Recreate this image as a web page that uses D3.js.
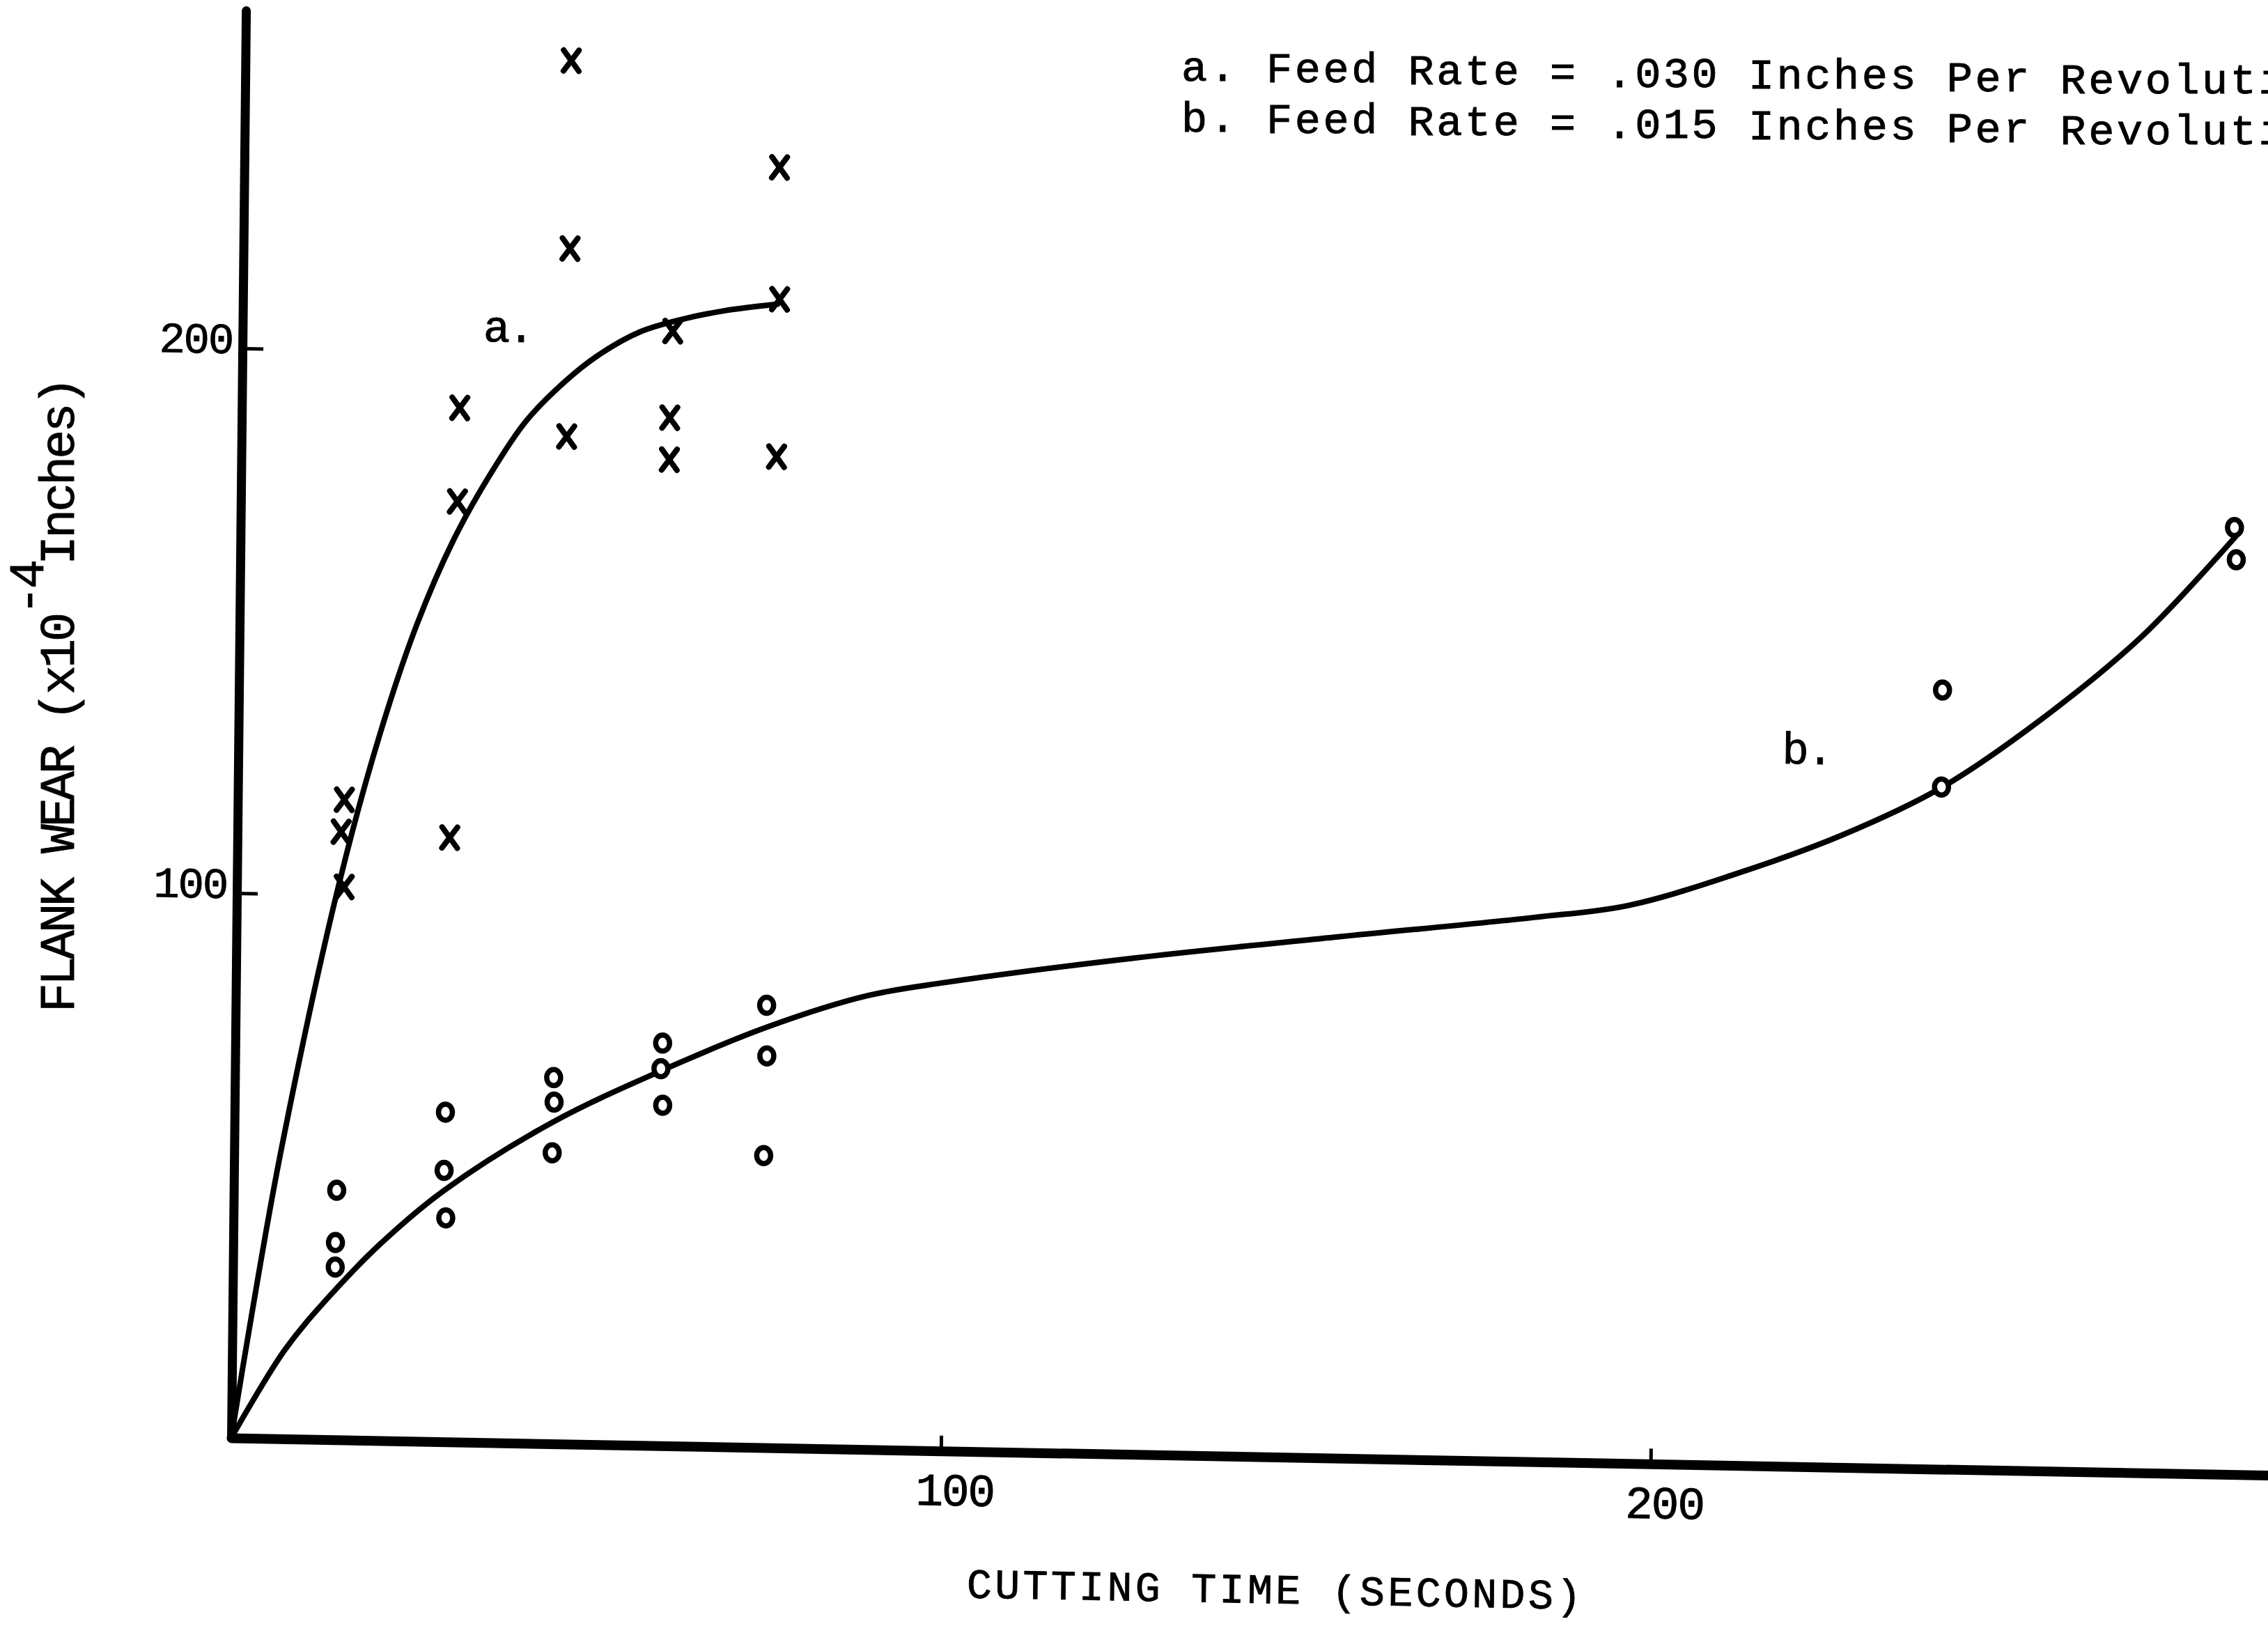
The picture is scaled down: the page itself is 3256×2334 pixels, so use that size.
<!DOCTYPE html>
<html>
<head>
<meta charset="utf-8">
<script src="https://cdn.jsdelivr.net/npm/d3@7"></script>
<style>
html, body { margin: 0; padding: 0; background: #fff; }
svg { display: block; }
text { font-family: "Liberation Mono", "DejaVu Sans Mono", monospace; fill: #000; stroke: #000; stroke-width: 0.9px; }
</style>
</head>
<body>
<svg id="chart" width="3256" height="2334"></svg>
<script>
// ---------------- data ----------------
const xTickValues = [100, 200];
const xTickLabels = ["100", "200"];
const yTickValues = [100, 200];
const yTickLabels = ["100", "200"];

const legendLines = [
  "a. Feed Rate = .030 Inches Per Revolution",
  "b. Feed Rate = .015 Inches Per Revolution"
];
const seriesLabels = ["a.", "b."];
const xTitle = "CUTTING TIME (SECONDS)";
const yTitleMain = "FLANK WEAR (x10";
const yTitleSup = "-4";
const yTitleEnd = "Inches)";

// series a : feed .030 ipr (x markers)
const timeA = [15.0, 14.6, 15.1, 30.7, 30.5, 29.9, 45.9, 46.0, 45.8, 60.6, 60.3, 60.3, 75.4, 75.6, 75.4];
const wearA = [117.5, 111.6, 101.5, 189.8, 172.6, 110.9, 253.9, 219.4, 184.9, 204.6, 188.7, 181.0, 235.0, 210.8, 181.9];

// series b : feed .015 ipr (o markers)
const timeB = [14.5, 14.4, 14.4, 29.7, 29.6, 29.9, 44.9, 45.0, 44.8, 60.2, 60.0, 60.3, 74.8, 74.9, 74.6, 240.0, 240.0, 280.9, 281.2];
const wearB = [45.8, 36.2, 31.7, 60.5, 49.8, 41.1, 67.2, 62.7, 53.4, 73.9, 69.2, 62.5, 81.2, 71.9, 53.6, 143.0, 125.2, 173.8, 167.9];

// hand-drawn fitted curves
const fitATime = [0, 2.3, 6.5, 14.3, 20.0, 25.0, 30.0, 35.0, 40.0, 45.5, 50.0, 55.9, 62.2, 67.8, 75.3];
const fitAWear = [0, 19.4, 52.2, 101.6, 130.0, 150.0, 165.5, 177.5, 187.5, 195.0, 199.8, 204.3, 206.9, 208.5, 209.9];
const fitBTime = [0, 7.4, 13.6, 20.8, 29.7, 44.8, 60.0, 75.1, 89.0, 100.0, 126.5, 154.7, 182.8, 196.0, 211.0, 226.0, 240.0, 254.0, 268.0, 281.1];
const fitBWear = [0, 16.3, 26.3, 36.2, 46.2, 59.0, 68.8, 77.3, 83.3, 86.0, 91.1, 95.6, 99.9, 102.4, 108.5, 116.0, 125.1, 138.0, 153.5, 172.2];

// ---------------- layout ----------------
const svg = d3.select("#chart");
const W = 3256, H = 2334;
svg.append("rect").attr("width", W).attr("height", H).attr("fill", "#fff");

const originX = 332, originY = 2064;
const xTilt = 1.05 * Math.PI / 180;   // scanned page: x axis slopes down to the right
const yTilt = 0.59 * Math.PI / 180;   // y axis leans slightly right
const ma = Math.cos(xTilt), mb = Math.sin(xTilt), mc = -Math.sin(yTilt), md = Math.cos(yTilt);

const x = d3.scaleLinear().domain([0, 300]).range([0, 3057]);
const y = d3.scaleLinear().domain([0, 262]).range([0, -2049]);

const g = svg.append("g")
  .attr("transform", `matrix(${ma},${mb},${mc},${md},${originX},${originY})`);

// curves
const line = d3.line().x(d => x(d[0])).y(d => y(d[1])).curve(d3.curveCatmullRom.alpha(0.5));
const fitA = fitATime.map((t, i) => [t, fitAWear[i]]);
const fitB = fitBTime.map((t, i) => [t, fitBWear[i]]);
[fitA, fitB].forEach(f => {
  g.append("path").attr("d", line(f)).attr("fill", "none").attr("stroke", "#000")
    .attr("stroke-width", 8).attr("stroke-linecap", "round").attr("stroke-linejoin", "round");
});

// axes
const xAxis = d3.axisBottom(x).tickValues(xTickValues)
  .tickFormat((d, i) => xTickLabels[i]).tickSizeInner(-22).tickSizeOuter(0);
const gx = g.append("g").call(xAxis);
gx.select(".domain").attr("stroke", "#000").attr("stroke-width", 14).attr("stroke-linecap", "round");
gx.selectAll(".tick line").attr("stroke", "#000").attr("stroke-width", 5);
gx.selectAll(".tick text").attr("x", 20).attr("y", 78).attr("dy", null)
  .attr("fill", "#000").style("font-size", "66px").style("letter-spacing", "-2px");

const yAxis = d3.axisLeft(y).tickValues(yTickValues)
  .tickFormat((d, i) => yTickLabels[i]).tickSizeInner(-30).tickSizeOuter(0);
const gy = g.append("g").call(yAxis);
gy.select(".domain").attr("stroke", "#000").attr("stroke-width", 13).attr("stroke-linecap", "round");
gy.selectAll(".tick line").attr("stroke", "#000").attr("stroke-width", 5);
gy.selectAll(".tick text").attr("x", -14).attr("y", 7).attr("dy", null)
  .attr("fill", "#000").style("font-size", "62px").style("letter-spacing", "-2px");

// markers a (x)
const ptsA = timeA.map((t, i) => [t, wearA[i]]);
g.append("g").selectAll("path").data(ptsA).join("path")
  .attr("d", "M-11,-15L11,15M11,-15L-11,15")
  .attr("transform", d => `translate(${x(d[0])},${y(d[1])})`)
  .attr("fill", "none").attr("stroke", "#000").attr("stroke-width", 8).attr("stroke-linecap", "round");

// markers b (o)
const ptsB = timeB.map((t, i) => [t, wearB[i]]);
g.append("g").selectAll("ellipse").data(ptsB).join("ellipse")
  .attr("cx", d => x(d[0])).attr("cy", d => y(d[1]))
  .attr("rx", 10).attr("ry", 11.5)
  .attr("fill", "#fff").attr("stroke", "#000").attr("stroke-width", 7.5);

// curve labels
g.append("text").attr("x", x(33.9)).attr("y", y(202.1)).style("font-size", "64px").style("letter-spacing", "-3px").text(seriesLabels[0]);
g.append("text").attr("x", x(217.5)).attr("y", y(129.0)).style("font-size", "64px").style("letter-spacing", "-3px").text(seriesLabels[1]);

// x title (follows the tilted axis)
g.append("text").attr("x", 1058).attr("y", 210)
  .style("font-size", "60px").style("letter-spacing", "4.3px")
  .text(xTitle);

// y title
const yt = svg.append("text")
  .attr("transform", "translate(106,1453) rotate(-90)")
  .style("font-size", "70px").style("letter-spacing", "-4px");
yt.append("tspan").text(yTitleMain);
yt.append("tspan").attr("dy", -44).text(yTitleSup);
yt.append("tspan").attr("dy", 44).attr("dx", -4).text(yTitleEnd);

// legend: typed lines, slightly skewed on the scan; each word placed on its column
const pitch = 40.7, legTilt = 0.8 * Math.PI / 180;
const legX = 1696, legY = 116, legGap = 73;
legendLines.forEach((ln, li) => {
  const words = [];
  let re = /\S+/g, m;
  while ((m = re.exec(ln)) !== null) words.push({ w: m[0], col: m.index });
  svg.append("g").selectAll("text").data(words).join("text")
    .attr("x", d => legX + d.col * pitch * Math.cos(legTilt))
    .attr("y", d => legY + li * legGap + d.col * pitch * Math.sin(legTilt))
    .style("font-size", "62px").style("letter-spacing", (pitch - 37.2) + "px")
    .text(d => d.w);
});
</script>
</body>
</html>
